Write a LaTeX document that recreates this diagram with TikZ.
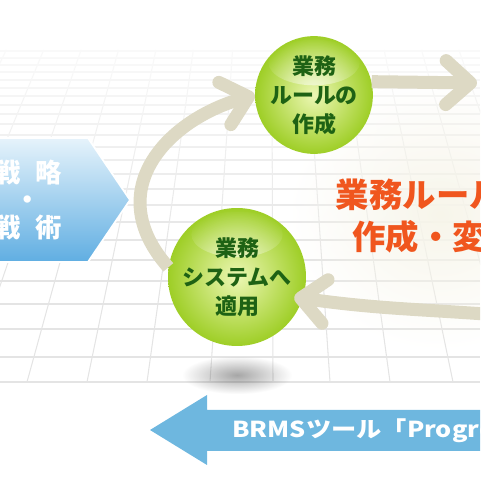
\documentclass[tikz,border=0pt]{standalone}
\usepackage{fontspec}
\newfontfamily\jpfont{Noto Sans CJK JP}
\usetikzlibrary{arrows.meta,fadings}

\definecolor{ballpale}{RGB}{236,247,180}
\definecolor{ballgreen}{RGB}{158,206,38}
\definecolor{rulegreen}{RGB}{30,98,20}
\definecolor{loopbeige}{RGB}{221,217,196}
\definecolor{hexlight}{RGB}{230,243,251}
\definecolor{hexblue}{RGB}{96,174,226}
\definecolor{toolblue}{RGB}{110,183,223}
\definecolor{changeorange}{RGB}{240,86,30}
\definecolor{gridgray}{RGB}{228,228,228}
\definecolor{glowcream}{RGB}{247,245,234}

\tikzfading[name=softspot, inner color=transparent!0, outer color=transparent!100]

\tikzset{
  ball/.style={circle, inner color=ballpale, outer color=ballgreen, text=rulegreen,
    font=\jpfont\bfseries\fontsize{12.5}{16.4}\selectfont, align=center, inner sep=0pt,
    path picture={\fill[white, opacity=0.6, path fading=softspot]
      ([yshift=-15pt]path picture bounding box.north) ellipse [x radius=26pt, y radius=13pt];}},
  cyclearrow/.style={draw=loopbeige, line width=7.4pt,
    -{Straight Barb[length=14pt, width=25pt, round]}},
  gridline/.style={draw=gridgray, line width=0.6pt},
  hextext/.style={text=white, font=\jpfont\bfseries\fontsize{15}{15.6}\selectfont, align=center, inner sep=0pt},
  changetext/.style={text=changeorange, font=\jpfont\bfseries\fontsize{19}{23.8}\selectfont, align=center, inner sep=0pt},
  tooltext/.style={text=white, font=\jpfont\bfseries\fontsize{12.5}{14}\selectfont, inner sep=0pt, xscale=1.15, transform shape}
}

\begin{document}
\begin{tikzpicture}[x=0.02cm, y=0.02cm]
  \useasboundingbox (0,0) rectangle (480,480);
  \clip (0,0) rectangle (480,480);

  % floor grid
  \foreach \gx in {-153,-93,-33,27,87,147,210,273,330,390,453,513,573,633}
    \draw[gridline] (\gx,98) -- ({270+(\gx-270)*0.6236},430);
  \foreach \gy in {98,123,151,176,199,220,240,258,275,291,306,320,333,345,356,366,375,384,392,400,408,415,422,429}
    \draw[gridline] (0,\gy) -- (480,\gy);
  \fill[white, path fading=south] (0,215) rectangle (480,481);
  \fill[glowcream, path fading=softspot] (290,130) rectangle (590,400);

  % shadow under the lower ball
  \fill[black, opacity=0.35, path fading=softspot] (182,86) rectangle (292,124);

  % strategy box
  \shade[top color=hexlight, bottom color=hexblue, draw=white, line width=1pt]
    (-20,342) -- (88,342) -- (130,280) -- (88,218) -- (-20,218) -- cycle;
  \node[hextext] (strategy) at (28,280) {戦\hspace{0.55em}略\\・\\戦\hspace{0.55em}術};

  % balls
  \node[ball, minimum size=2.24cm] (rule) at (314,385) {業務\\ルールの\\作成};
  \node[ball, minimum size=2.76cm] (app) at (237,203) {業務\\システムへ\\適用};

  % cycle
  \coordinate (outR) at (477,397);
  \coordinate (inB) at (485,166);
  \draw[cyclearrow] (app.172) .. controls +(-68,77) and +(-88,-25) .. (rule.west);
  \draw[cyclearrow] (rule.13) -- (outR);
  \draw[cyclearrow, shorten >=-5pt] (inB) to[out=176, in=-8] (app.-18);

  \node[changetext] (change) at (436,264) {業務ルールの\\作成・変更};

  % tool arrow
  \fill[toolblue] (150,50) -- (207,85) -- (207,70) -- (481,70) -- (481,29) -- (207,29) -- (207,15) -- cycle;
  \node[tooltext, anchor=west] (tool) at (232,49) {BRMSツール「Progress」};
\end{tikzpicture}
\end{document}
